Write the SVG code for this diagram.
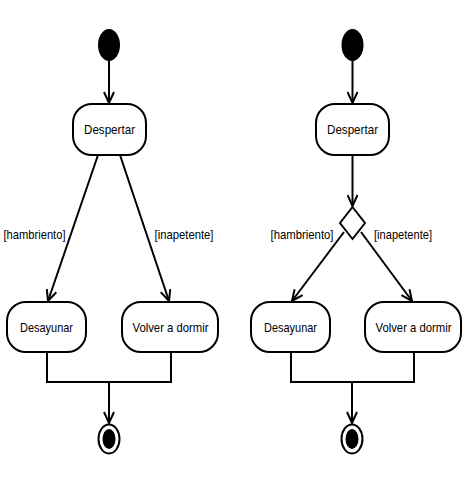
<svg xmlns="http://www.w3.org/2000/svg" width="474" height="487" viewBox="0 0 474 487">
<defs>
<marker id="arr" markerUnits="userSpaceOnUse" viewBox="0 0 13 12" refX="12" refY="6" markerWidth="13" markerHeight="12" orient="auto">
<path d="M1,1 L12,6 L1,11" fill="none" stroke="#000" stroke-width="2"/>
</marker>
<style>
.box{fill:#fff;stroke:#000;stroke-width:2}
.t{font-family:"Liberation Sans",Arial,sans-serif;font-size:13.5px;fill:#000;text-anchor:middle}
.c{fill:none;stroke:#000;stroke-width:2}
.a{fill:none;stroke:#000;stroke-width:2;marker-end:url(#arr)}
</style>
</defs>
<rect width="474" height="487" fill="#fff"/>
<g id="connectors">
<line class="a" x1="109" y1="61" x2="109" y2="103"/>
<line class="a" x1="98" y1="155" x2="48" y2="301"/>
<line class="a" x1="120" y1="155" x2="169" y2="301"/>
<polyline class="c" points="47,352 47,382 171,382 171,352"/>
<line class="a" x1="109" y1="382" x2="109" y2="423"/>
<line class="a" x1="352.5" y1="61" x2="352.5" y2="103"/>
<line class="a" x1="352.5" y1="155" x2="352.5" y2="206"/>
<line class="a" x1="344" y1="232" x2="292" y2="301"/>
<line class="a" x1="361" y1="232" x2="412" y2="301"/>
<polyline class="c" points="291,352 291,382 414,382 414,352"/>
<line class="a" x1="352" y1="382" x2="352" y2="423"/>
<text class="t" x="34.5" y="239" textLength="62" lengthAdjust="spacingAndGlyphs">[hambriento]</text>
<text class="t" x="184" y="239" textLength="59" lengthAdjust="spacingAndGlyphs">[inapetente]</text>
<text class="t" x="302" y="239" textLength="63" lengthAdjust="spacingAndGlyphs">[hambriento]</text>
<text class="t" x="403" y="239" textLength="58" lengthAdjust="spacingAndGlyphs">[inapetente]</text>
</g>
<g id="start1"><ellipse cx="109" cy="45" rx="11" ry="16" fill="#000"/></g>
<g id="despertar1"><rect class="box" x="73" y="104" width="73" height="51" rx="19"/><text class="t" x="109.5" y="134" textLength="51" lengthAdjust="spacingAndGlyphs">Despertar</text></g>
<g id="desayunar1"><rect class="box" x="7" y="302" width="79" height="50" rx="19"/><text class="t" x="46.5" y="332" textLength="53" lengthAdjust="spacingAndGlyphs">Desayunar</text></g>
<g id="volver1"><rect class="box" x="122" y="302" width="96" height="50" rx="19"/><text class="t" x="170.5" y="332" textLength="76" lengthAdjust="spacingAndGlyphs">Volver a dormir</text></g>
<g id="end1"><ellipse cx="109" cy="439" rx="10.5" ry="14.5" fill="#fff" stroke="#000" stroke-width="2"/><ellipse cx="109" cy="439" rx="6.5" ry="10" fill="#000"/></g>
<g id="start2"><ellipse cx="352.5" cy="45" rx="11" ry="16" fill="#000"/></g>
<g id="despertar2"><rect class="box" x="316" y="104" width="73" height="51" rx="19"/><text class="t" x="352.5" y="134" textLength="51" lengthAdjust="spacingAndGlyphs">Despertar</text></g>
<g id="decision"><polygon class="box" points="352.5,207 365,223 352.5,239 340,223"/></g>
<g id="desayunar2"><rect class="box" x="251" y="302" width="79" height="50" rx="19"/><text class="t" x="290.5" y="332" textLength="53" lengthAdjust="spacingAndGlyphs">Desayunar</text></g>
<g id="volver2"><rect class="box" x="365" y="302" width="96" height="50" rx="19"/><text class="t" x="413.5" y="332" textLength="76" lengthAdjust="spacingAndGlyphs">Volver a dormir</text></g>
<g id="end2"><ellipse cx="352" cy="439" rx="10.5" ry="14.5" fill="#fff" stroke="#000" stroke-width="2"/><ellipse cx="352" cy="439" rx="6.5" ry="10" fill="#000"/></g>
</svg>
